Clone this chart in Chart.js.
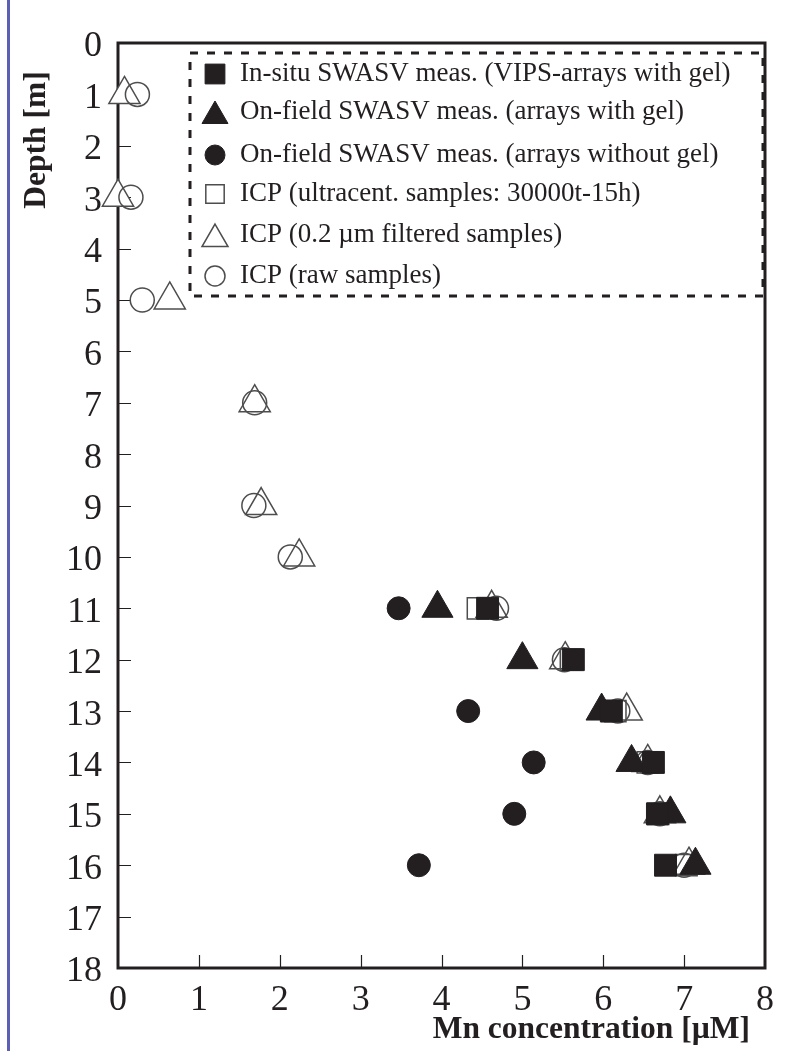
<!DOCTYPE html>
<html>
<head>
<meta charset="utf-8">
<script src="https://cdn.jsdelivr.net/npm/chart.js@4.4.1/dist/chart.umd.min.js"></script>
<style>
    html, body { margin: 0; padding: 0; background: #fff; }
    #contenedor { position: relative; width: 785px; height: 1051px; }
</style>
</head>
<body>
<div id="contenedor"><canvas id="grafico-mn"></canvas></div>
<script>
// Datos: profundidad [m] y concentración de Mn [µM]
const profundidadesSwasv = [11, 12, 13, 14, 15, 16];
const mnInSitu = [4.57, 5.63, 6.1, 6.62, 6.67, 6.77];
const mnConGel = [3.95, 5.0, 5.98, 6.35, 6.83, 7.14];

const profundidadesSinGel = [11, 13, 14, 15, 16];
const mnSinGel = [3.47, 4.33, 5.14, 4.9, 3.72];

const profundidadesUltracent = [11, 12, 13, 14, 15, 16];
const mnUltracent = [4.45, 5.6, 6.15, 6.55, 6.68, 7.03];

const profundidadesIcp = [1, 3, 5, 7, 9, 10, 11, 12, 13, 14, 15, 16];
const mnFiltrado = [0.08, 0.0, 0.64, 1.69, 1.77, 2.24, 4.62, 5.53, 6.29, 6.55, 6.7, 7.06];
const mnCrudo = [0.24, 0.16, 0.3, 1.69, 1.68, 2.13, 4.68, 5.52, 6.18, 6.55, 6.7, 7.0];

const etiquetasSeries = [
    "In-situ SWASV meas. (VIPS-arrays with gel)",
    "On-field SWASV meas. (arrays with gel)",
    "On-field SWASV meas. (arrays without gel)",
    "ICP (ultracent. samples: 30000t-15h)",
    "ICP (0.2 µm filtered samples)",
    "ICP (raw samples)"
];

const ticksConcentracion = [0, 1, 2, 3, 4, 5, 6, 7, 8];
const ticksProfundidad = [0, 1, 2, 3, 4, 5, 6, 7, 8, 9, 10, 11, 12, 13, 14, 15, 16, 17, 18];

const tituloX = "Mn concentration [µM]";
const tituloY = "Depth [m]";

const NEGRO = "#231f20";
const GRIS = "#4d4d4d";
const FUENTE = "'Liberation Serif', 'Times New Roman', serif";

window.onload = initGrafico;

let graficoMn;

function puntos(profundidades, valores) {
    return valores.map(function (v, i) {
        return { x: v, y: profundidades[i] };
    });
}

// Dibuja marco, ticks hacia dentro, leyenda punteada y títulos de ejes
const marcoPlugin = {
    id: 'marco',
    beforeDraw(chart) {
        const ctx = chart.ctx;
        ctx.save();
        ctx.fillStyle = "#5c5fb3";
        ctx.fillRect(7, 0, 3, chart.height);
        ctx.restore();
    },
    beforeDatasetsDraw(chart) {
        const ctx = chart.ctx;
        const area = chart.chartArea;
        const sx = chart.scales.x;
        const sy = chart.scales.y;
        ctx.save();
        ctx.strokeStyle = NEGRO;
        ctx.lineWidth = 1.2;
        ctx.beginPath();
        ticksProfundidad.forEach(function (t) {
            if (t === 0 || t === 18) return;
            const y = Math.round(sy.getPixelForValue(t)) + 0.5;
            ctx.moveTo(area.left, y);
            ctx.lineTo(area.left + 13, y);
        });
        ticksConcentracion.forEach(function (t) {
            if (t === 0 || t === 8) return;
            const x = Math.round(sx.getPixelForValue(t)) + 0.5;
            ctx.moveTo(x, area.bottom);
            ctx.lineTo(x, area.bottom - 13);
        });
        ctx.stroke();
        ctx.lineWidth = 3;
        ctx.strokeRect(area.left, area.top, area.right - area.left, area.bottom - area.top);
        ctx.restore();
    },
    afterDatasetsDraw(chart) {
        const ctx = chart.ctx;
        ctx.save();

        // Caja de la leyenda
        ctx.strokeStyle = NEGRO;
        ctx.lineWidth = 3;
        ctx.setLineDash([8, 9]);
        ctx.strokeRect(190, 53, 573, 243);
        ctx.setLineDash([]);

        const filas = [74, 112, 155, 194, 235, 276];
        const radios = [14, 15, 10, 13, 15, 10];
        chart.data.datasets.forEach(function (ds, i) {
            const yMarca = filas[i] + (ds.pointStyle === 'triangle' ? 4 : 0);
            ctx.fillStyle = ds.backgroundColor;
            ctx.strokeStyle = ds.borderColor;
            ctx.lineWidth = ds.borderWidth;
            Chart.helpers.drawPoint(ctx, {
                pointStyle: ds.pointStyle,
                rotation: 0,
                radius: radios[i],
                borderWidth: ds.borderWidth
            }, 215, yMarca);
            ctx.fillStyle = NEGRO;
            ctx.font = "27px " + FUENTE;
            ctx.textAlign = 'left';
            ctx.textBaseline = 'middle';
            ctx.fillText(ds.label, 240, filas[i]);
        });

        // Títulos de los ejes
        ctx.fillStyle = NEGRO;
        ctx.font = "bold 31.5px " + FUENTE;
        ctx.textAlign = 'right';
        ctx.textBaseline = 'middle';
        ctx.fillText(tituloX, 750, 1030);

        ctx.translate(37, 140);
        ctx.rotate(-Math.PI / 2);
        ctx.textAlign = 'center';
        ctx.fillText(tituloY, 0, 0);
        ctx.restore();
    }
};

function initGrafico() {
    const ctx = document.getElementById("grafico-mn").getContext('2d');
    graficoMn = new Chart(ctx, {
        type: 'scatter',
        data: {
            datasets: [{
                label: etiquetasSeries[0],
                data: puntos(profundidadesSwasv, mnInSitu),
                pointStyle: 'rect',
                pointRadius: 15.5,
                backgroundColor: NEGRO,
                borderColor: NEGRO,
                borderWidth: 1,
                clip: false,
                order: 0
            }, {
                label: etiquetasSeries[1],
                data: puntos(profundidadesSwasv, mnConGel),
                pointStyle: 'triangle',
                pointRadius: 18,
                backgroundColor: NEGRO,
                borderColor: NEGRO,
                borderWidth: 1,
                clip: false,
                order: 1
            }, {
                label: etiquetasSeries[2],
                data: puntos(profundidadesSinGel, mnSinGel),
                pointStyle: 'circle',
                pointRadius: 11.5,
                backgroundColor: NEGRO,
                borderColor: NEGRO,
                borderWidth: 1,
                clip: false,
                order: 2
            }, {
                label: etiquetasSeries[3],
                data: puntos(profundidadesUltracent, mnUltracent),
                pointStyle: 'rect',
                pointRadius: 15,
                backgroundColor: 'rgba(255,255,255,0)',
                borderColor: GRIS,
                borderWidth: 1.5,
                clip: false,
                order: 4
            }, {
                label: etiquetasSeries[4],
                data: puntos(profundidadesIcp, mnFiltrado),
                pointStyle: 'triangle',
                pointRadius: 18,
                backgroundColor: '#ffffff',
                borderColor: GRIS,
                borderWidth: 1.5,
                clip: false,
                order: 5
            }, {
                label: etiquetasSeries[5],
                data: puntos(profundidadesIcp, mnCrudo),
                pointStyle: 'circle',
                pointRadius: 12,
                backgroundColor: 'rgba(255,255,255,0)',
                borderColor: GRIS,
                borderWidth: 1.5,
                clip: false,
                order: 3
            }]
        },
        options: {
            responsive: true,
            maintainAspectRatio: false,
            animation: false,
            layout: {
                padding: { top: 43, right: 17, bottom: 0, left: 0 }
            },
            scales: {
                x: {
                    type: 'linear',
                    min: 0,
                    max: 8,
                    afterBuildTicks: function (scale) {
                        scale.ticks = ticksConcentracion.map(function (v) { return { value: v }; });
                    },
                    afterFit: function (scale) { scale.height = 83; },
                    grid: { display: false, drawTicks: false },
                    border: { display: false },
                    ticks: {
                        color: NEGRO,
                        padding: 11,
                        maxRotation: 0,
                        font: { family: FUENTE, size: 36 }
                    }
                },
                y: {
                    type: 'linear',
                    reverse: true,
                    min: 0,
                    max: 18,
                    afterBuildTicks: function (scale) {
                        scale.ticks = ticksProfundidad.map(function (v) { return { value: v }; });
                    },
                    afterFit: function (scale) { scale.width = 118; },
                    grid: { display: false, drawTicks: false },
                    border: { display: false },
                    ticks: {
                        color: NEGRO,
                        padding: 16,
                        labelOffset: 4,
                        font: { family: FUENTE, size: 36 }
                    }
                }
            },
            plugins: {
                legend: { display: false },
                tooltip: { enabled: false }
            }
        },
        plugins: [marcoPlugin]
    });
}
</script>
</body>
</html>
